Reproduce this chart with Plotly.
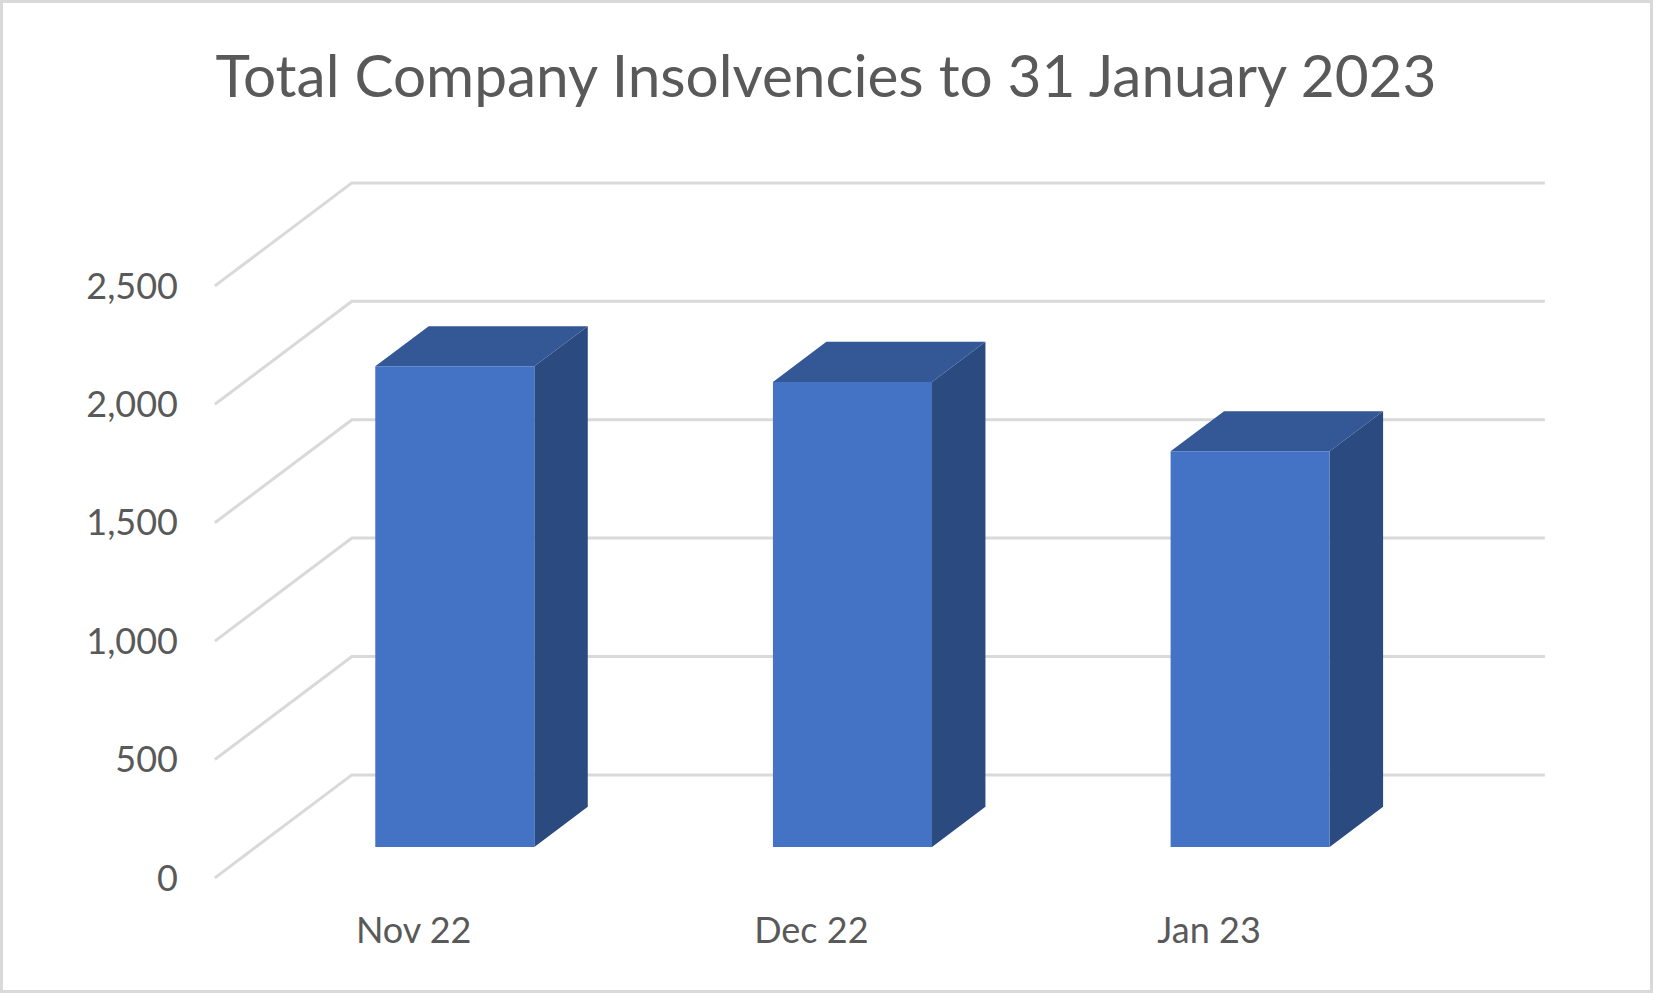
import plotly.graph_objects as go

# monthly totals
months = ["Nov 22", "Dec 22", "Jan 23"]
insolvencies = [2030, 1964, 1671]
y_ticks = [0, 500, 1000, 1500, 2000, 2500]
y_tick_text = ["0", "500", "1,000", "1,500", "2,000", "2,500"]

# fake 3d: depth offset of the back wall, in axis units
DXC = 0.3445   # categories
DY = 435.0     # value units
D_FRONT = 0.30  # bar front face depth
D_BAR = 0.39    # bar thickness in depth
HALF_W = 0.2

TEXT = "#595959"
GRID = "#D9D9D9"

fig = go.Figure()

# walls: diagonal floor/side lines + back wall lines
gx, gy = [], []
n = len(months)
for t in y_ticks:
    gx += [-0.5, -0.5 + DXC, n - 0.5 + DXC, None]
    gy += [t, t + DY, t + DY, None]
fig.add_trace(go.Scatter(x=gx, y=gy, mode="lines", line=dict(color=GRID, width=3),
                         hoverinfo="skip", showlegend=False))

# bars
fx, fy, tx, ty, sx, sy = [], [], [], [], [], []
for i, v in enumerate(insolvencies):
    x0 = i - HALF_W + D_FRONT * DXC
    x1 = i + HALF_W + D_FRONT * DXC
    yb = D_FRONT * DY
    yt = v + D_FRONT * DY
    ddx, ddy = D_BAR * DXC, D_BAR * DY
    fx += [x0, x1, x1, x0, x0, None]
    fy += [yb, yb, yt, yt, yb, None]
    tx += [x0, x1, x1 + ddx, x0 + ddx, x0, None]
    ty += [yt, yt, yt + ddy, yt + ddy, yt, None]
    sx += [x1, x1 + ddx, x1 + ddx, x1, x1, None]
    sy += [yb, yb + ddy, yt + ddy, yt, yb, None]

for xs, ys, col in [(sx, sy, "#2A4A80"), (tx, ty, "#345896"), (fx, fy, "#4472C4")]:
    fig.add_trace(go.Scatter(x=xs, y=ys, mode="lines", fill="toself", fillcolor=col,
                             line=dict(width=0, color=col), hoverinfo="skip",
                             showlegend=False))

W, H = 1653, 993
L, R, T, B = 195, 98, 177, 108
pw, ph = W - L - R, H - T - B

fig.update_layout(
    width=W, height=H,
    margin=dict(l=L, r=R, t=T, b=B),
    paper_bgcolor="white", plot_bgcolor="white",
    font=dict(family="Lato, Open Sans, sans-serif", color=TEXT),
    title=dict(text="Total Company Insolvencies to 31 January 2023",
               x=(826 - L) / pw, xref="paper", xanchor="center",
               y=1 - 77 / H, yanchor="middle",
               font=dict(size=58.5, color=TEXT)),
    xaxis=dict(range=[-0.55, 2.87], tickvals=list(range(n)), ticktext=months,
               showgrid=False, zeroline=False, showline=False, ticks="",
               tickfont=dict(size=36, color=TEXT), ticklabelstandoff=21,
               fixedrange=True),
    yaxis=dict(range=[-30, 2960], tickvals=y_ticks, ticktext=y_tick_text,
               showgrid=False, zeroline=False, showline=False, ticks="",
               tickfont=dict(size=36, color=TEXT), ticklabelstandoff=16,
               fixedrange=True),
    shapes=[dict(type="rect", xref="paper", yref="paper",
                 x0=(1.5 - L) / pw, x1=(W - 1.5 - L) / pw,
                 y0=-(B - 1.5) / ph, y1=1 + (T - 1.5) / ph,
                 line=dict(color=GRID, width=3), layer="below")],
)

fig.write_html("out.html", config={"displayModeBar": False},
               post_script="document.body.style.margin='0';")
